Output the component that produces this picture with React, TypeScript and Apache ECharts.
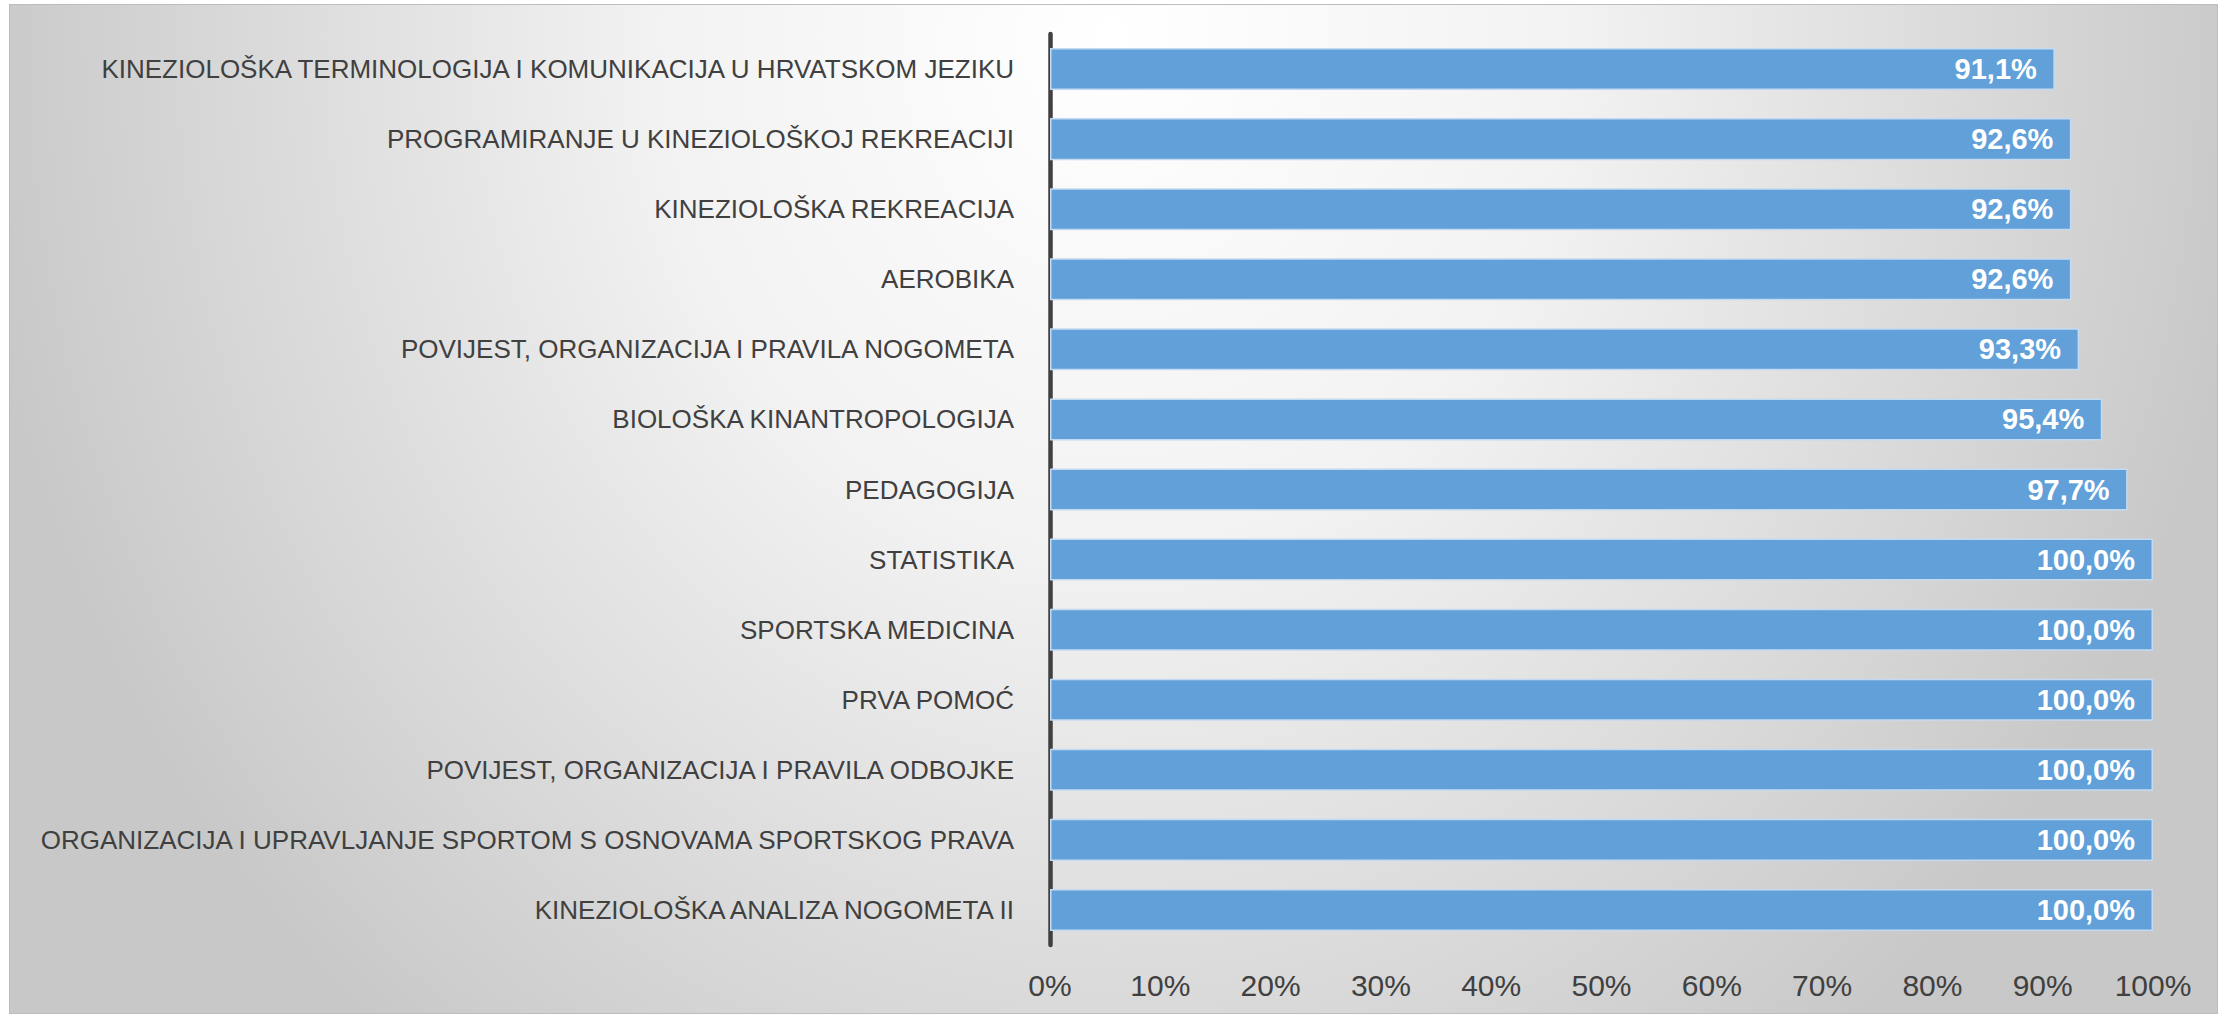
import React, { useEffect, useRef } from "react";
import * as echarts from "echarts";

const categories = [
  "KINEZIOLOŠKA TERMINOLOGIJA I KOMUNIKACIJA U HRVATSKOM JEZIKU",
  "PROGRAMIRANJE U KINEZIOLOŠKOJ REKREACIJI",
  "KINEZIOLOŠKA REKREACIJA",
  "AEROBIKA",
  "POVIJEST, ORGANIZACIJA I PRAVILA NOGOMETA",
  "BIOLOŠKA KINANTROPOLOGIJA",
  "PEDAGOGIJA",
  "STATISTIKA",
  "SPORTSKA MEDICINA",
  "PRVA POMOĆ",
  "POVIJEST, ORGANIZACIJA I PRAVILA ODBOJKE",
  "ORGANIZACIJA I UPRAVLJANJE SPORTOM S OSNOVAMA SPORTSKOG PRAVA",
  "KINEZIOLOŠKA ANALIZA NOGOMETA II",
];

const values = [91.1, 92.6, 92.6, 92.6, 93.3, 95.4, 97.7, 100, 100, 100, 100, 100, 100];

const xTicks = [0, 10, 20, 30, 40, 50, 60, 70, 80, 90, 100];

const FONT = "'Liberation Sans Narrow', 'Arial Narrow', 'Liberation Sans', sans-serif";

export default function App() {
  const ref = useRef<HTMLDivElement>(null);

  useEffect(() => {
    if (!ref.current) return;
    const chart = echarts.init(ref.current, undefined, { renderer: "svg" });
    chart.setOption({
      animation: false,
      backgroundColor: "transparent",
      grid: {
        left: 1040,
        right: 64,
        top: 29,
        bottom: 69,
        containLabel: false,
        outerBoundsMode: "none",
      },
      xAxis: {
        type: "value",
        min: xTicks[0],
        max: xTicks[xTicks.length - 1],
        interval: 10,
        axisLine: { show: false },
        axisTick: { show: false },
        splitLine: { show: false },
        axisLabel: {
          color: "#404040",
          fontFamily: FONT,
          fontSize: 30,
          margin: 25,
          formatter: (v: number) => `${v}%`,
        },
      },
      yAxis: {
        type: "category",
        data: categories,
        inverse: true,
        axisLine: { show: true, lineStyle: { color: "#404040", width: 4.5 } },
        axisTick: { show: false },
        splitLine: { show: false },
        axisLabel: {
          color: "#404040",
          fontFamily: FONT,
          fontSize: 26,
          margin: 36,
        },
      },
      series: [
        {
          type: "bar",
          data: values,
          barCategoryGap: "40%",
          itemStyle: {
            color: "#61a0d9",
            borderColor: "#c3daf0",
            borderWidth: 1.5,
          },
          label: {
            show: true,
            position: "insideRight",
            distance: 18,
            color: "#ffffff",
            fontFamily: FONT,
            fontWeight: "bold",
            fontSize: 29,
            formatter: (p: any) => `${p.value.toFixed(1).replace(".", ",")}%`,
          },
        },
      ],
    });
    return () => chart.dispose();
  }, []);

  return (
    <div
      style={{
        position: "absolute",
        left: 9,
        top: 4,
        width: 2209,
        height: 1010,
        boxSizing: "border-box",
        border: "1px solid #bdbdbd",
        background:
          "radial-gradient(ellipse 1150px 1300px at 50% 3%, #ffffff 0%, #f2f2f2 40%, #c8c8c8 100%)",
      }}
    >
      <div ref={ref} style={{ width: 2207, height: 1009 }} />
    </div>
  );
}
